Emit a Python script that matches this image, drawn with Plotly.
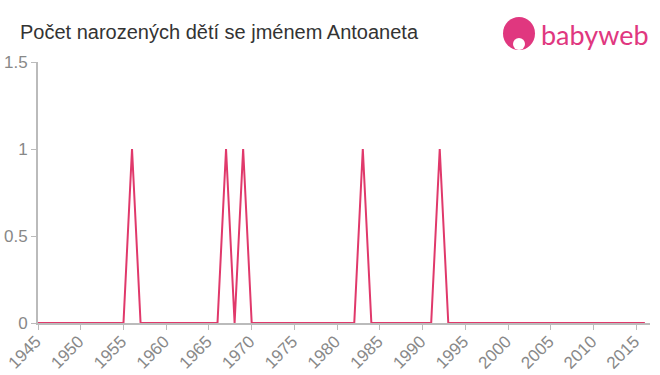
import plotly.graph_objects as go

years = list(range(1945, 2017))
peak_years = [1956, 1967, 1969, 1983, 1992]
values = [1 if y in peak_years else 0 for y in years]

x_ticks = list(range(1945, 2020, 5))
y_ticks = [0, 0.5, 1, 1.5]
y_labels = ["0", "0.5", "1", "1.5"]

title = "Počet narozených dětí se jménem Antoaneta"

L, R, T, B = 38, 10, 62, 52
PW, PH = 660 - L - R, 375 - T - B

def px(x):
    return (x - L) / PW

def py(y):
    return (375 - B - y) / PH

fig = go.Figure()
fig.add_trace(go.Scatter(x=years, y=values, mode="lines",
                         line=dict(color="#e0396b", width=2),
                         hoverinfo="x+y"))

fig.update_layout(
    width=660, height=375,
    margin=dict(l=L, r=R, t=T, b=B, autoexpand=False),
    paper_bgcolor="white", plot_bgcolor="white",
    showlegend=False,
    font=dict(family="Liberation Sans, Arial, sans-serif", color="#888"),
    title=dict(text=title, x=20 / 660, xanchor="left", y=1 - 32 / 375, yanchor="middle",
               font=dict(size=20, color="#333")),
)
fig.update_xaxes(range=[1945, 2016.6], tickvals=x_ticks, tickangle=-45,
                 showgrid=False, zeroline=False, showline=True, linecolor="#bbb",
                 linewidth=2, ticks="outside", tickcolor="#bbb", ticklen=5,
                 automargin=False, ticklabelstandoff=-5, ticklabelshift=-2,
                 tickfont=dict(size=17, color="#888"))
fig.update_yaxes(range=[0, 1.5], tickvals=y_ticks, ticktext=y_labels,
                 showgrid=False, zeroline=False, showline=True, linecolor="#bbb",
                 linewidth=2, ticks="outside", tickcolor="#bbb", ticklen=5,
                 automargin=False,
                 tickfont=dict(size=17, color="#888"))

# logo
pink = "#e0377f"
fig.add_shape(type="circle", xref="paper", yref="paper",
              x0=px(503), x1=px(535), y0=py(50), y1=py(17),
              fillcolor=pink, line=dict(width=0), layer="above")
fig.add_shape(type="circle", xref="paper", yref="paper",
              x0=px(513), x1=px(525), y0=py(50), y1=py(38),
              fillcolor="white", line=dict(width=0), layer="above")
fig.add_annotation(text="babyweb", xref="paper", yref="paper",
                   x=px(539), y=py(34), xanchor="left", yanchor="middle",
                   showarrow=False, font=dict(size=27, color=pink,
                                              family="Lato, sans-serif"))

fig.write_html("out.html")
